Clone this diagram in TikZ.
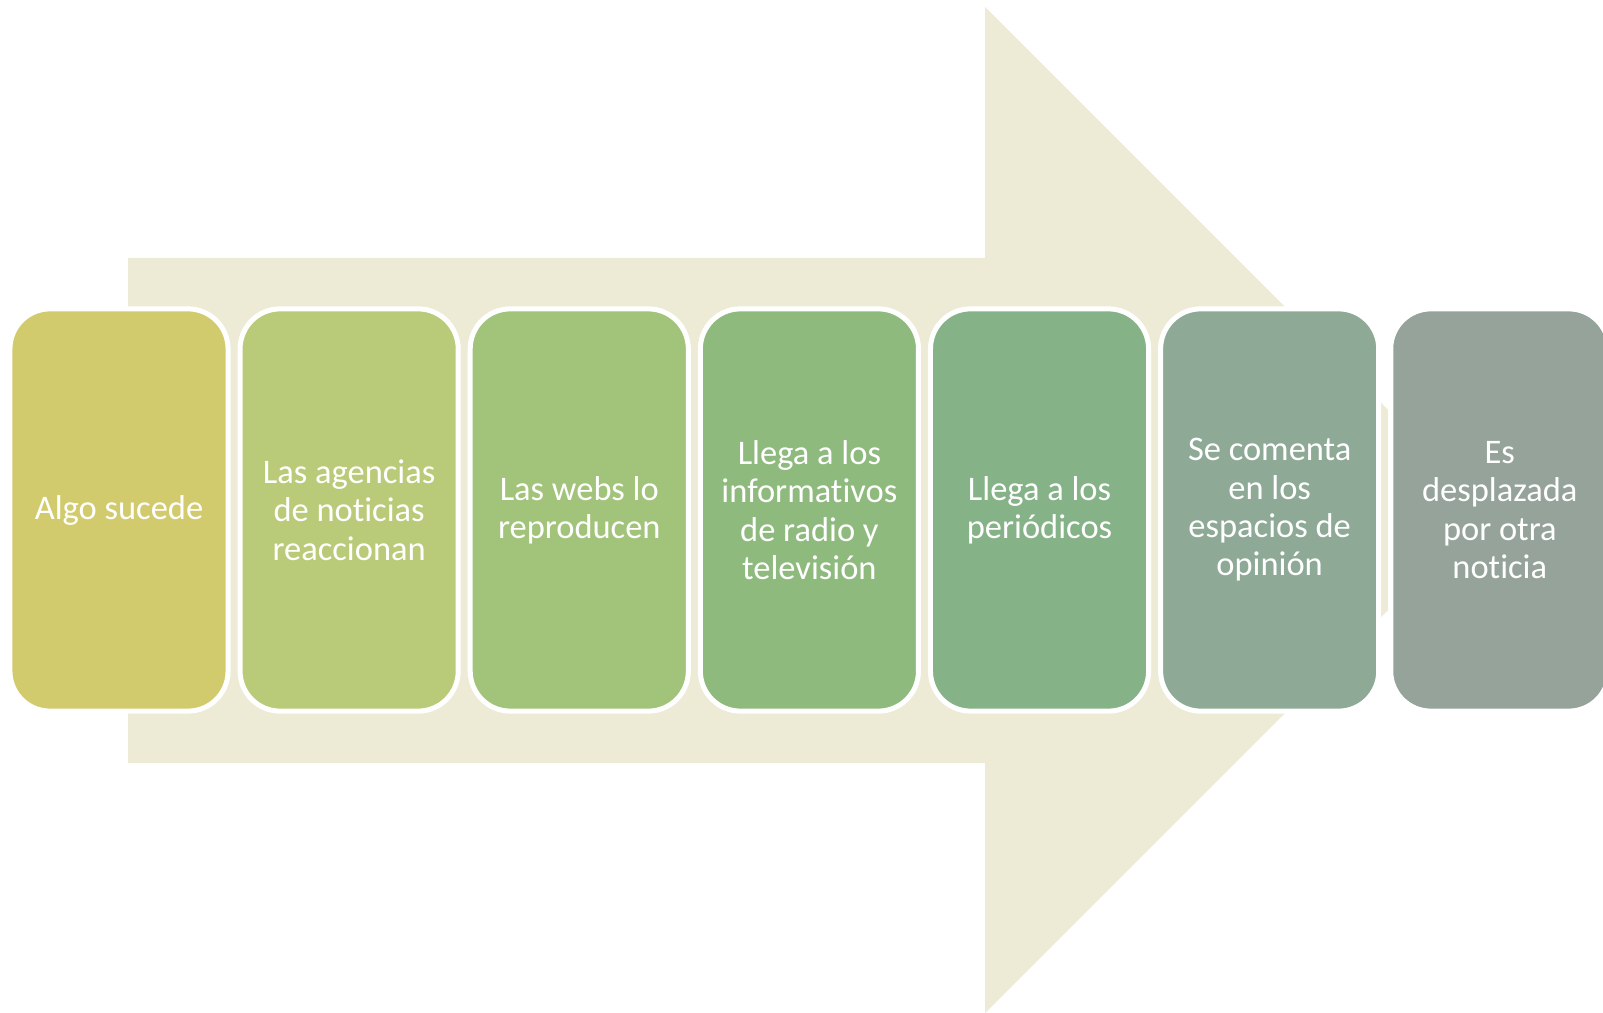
\documentclass[tikz,border=0pt]{standalone}
\usepackage{fontspec}
\setmainfont{Carlito}[Ligatures=NoCommon]
\usepackage{tikz}
\usetikzlibrary{positioning}
\definecolor{nwbeige}{RGB}{237,235,213}
\definecolor{nwone}{RGB}{210,203,110}
\definecolor{nwtwo}{RGB}{185,203,120}
\definecolor{nwthree}{RGB}{162,195,122}
\definecolor{nwfour}{RGB}{143,186,126}
\definecolor{nwfive}{RGB}{134,178,136}
\definecolor{nwsix}{RGB}{142,170,151}
\definecolor{nwseven}{RGB}{149,163,154}
\tikzstyle{stepbox} = [rectangle, rounded corners=0.4cm, draw=white, line width=0.05cm, minimum width=2.18cm, minimum height=4.02cm, outer sep=0pt, align=center, text=white, font=\fontsize{9.8pt}{10.9pt}\selectfont]

\begin{document}
\begin{tikzpicture}[x=0.01cm, y=-0.01cm, node distance=0.12cm]
    \clip (0,0) rectangle (1603,1013);
    \fill[white] (0,0) rectangle (1603,1013);

    % big arrow behind
    \fill[nwbeige] (128,258) -- (985,258) -- (985,7) -- (1488,510) -- (985,1013) -- (985,763) -- (128,763) -- cycle;

    % steps
    \node[stepbox, fill=nwone] (algo) at (119,510) {Algo sucede};
    \node[stepbox, fill=nwtwo, right=of algo] (agencias) {Las agencias\\de noticias\\reaccionan};
    \node[stepbox, fill=nwthree, right=of agencias] (webs) {Las webs lo\\reproducen};
    \node[stepbox, fill=nwfour, right=of webs] (radio) {Llega a los\\informativos\\de radio y\\televisión};
    \node[stepbox, fill=nwfive, right=of radio] (periodicos) {Llega a los\\periódicos};
    \node[stepbox, fill=nwsix, right=of periodicos] (opinion) {Se comenta\\en los\\espacios de\\opinión};
    \node[stepbox, fill=nwseven, right=of opinion] (otra) {Es\\desplazada\\por otra\\noticia};
\end{tikzpicture}
\end{document}
